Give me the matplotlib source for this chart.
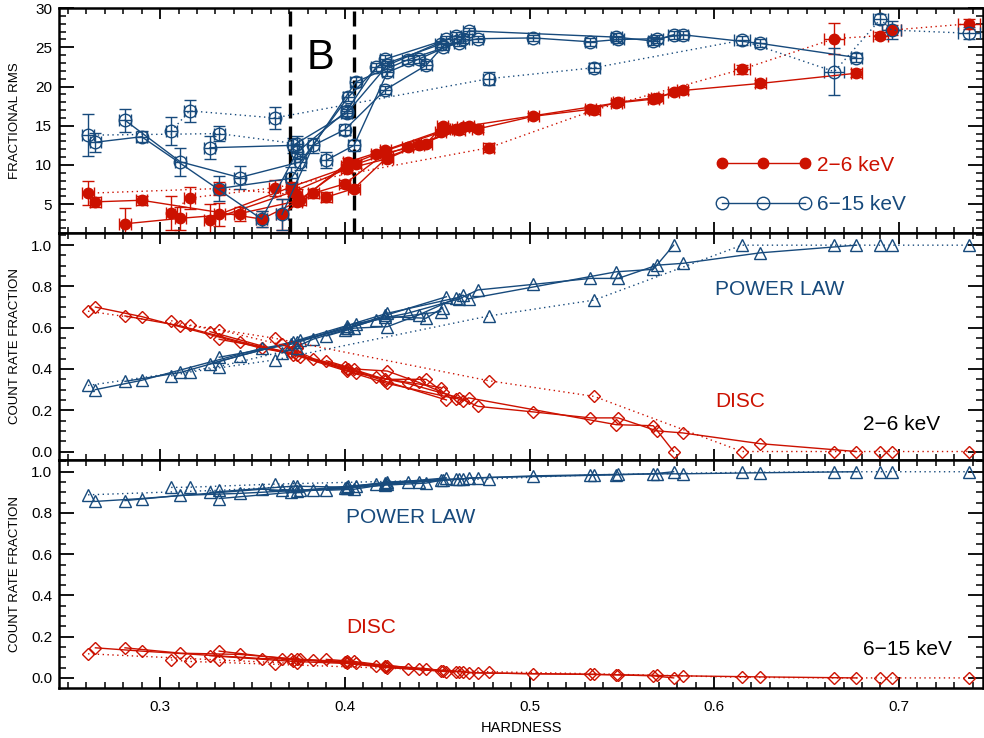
import numpy as np
import matplotlib.pyplot as plt
from matplotlib.lines import Line2D
from matplotlib.ticker import MultipleLocator

plt.rcParams['font.family'] = ['Liberation Sans', 'DejaVu Sans']

# ------------------------------------------------------------------------------
# data: one inner list per track (6 solid tracks, then 2 dotted ones)
hardness = [
    [0.265, 0.290, 0.355, 0.374, 0.401, 0.417, 0.452],
    [0.281, 0.311, 0.343, 0.376, 0.402, 0.422, 0.455],
    [0.327, 0.372, 0.401, 0.423, 0.460],
    [0.332, 0.371, 0.406, 0.434, 0.462, 0.472, 0.502, 0.533, 0.548, 0.569, 0.583, 0.625, 0.677],
    [0.366, 0.383, 0.400, 0.422, 0.444, 0.453],
    [0.390, 0.405, 0.423, 0.440, 0.464, 0.467, 0.547, 0.567, 0.578],
    [0.261, 0.332, 0.374],
    [0.306, 0.316, 0.362, 0.478, 0.535, 0.615, 0.665, 0.690, 0.696, 0.738],
]
hardness_err = [
    [0.003] * 7,
    [0.003] * 7,
    [0.003] * 5,
    [0.003] * 13,
    [0.003] * 6,
    [0.003] * 9,
    [0.003] * 3,
    [0.003, 0.003, 0.003, 0.003, 0.003, 0.0045, 0.0055, 0.004, 0.005, 0.006],
]
rms_soft = [
    [5.3, 5.5, 3.1, 5.3, 9.9, 11.4, 14.2],
    [2.5, 3.2, 3.8, 5.5, 10.4, 11.9, 14.6],
    [3.0, 6.6, 9.5, 10.8, 14.6],
    [3.7, 7.2, 10.1, 12.3, 14.4, 14.6, 16.2, 17.1, 18.0, 18.6, 19.5, 20.4, 21.7],
    [3.7, 6.4, 7.6, 11.5, 12.7, 15.0],
    [5.9, 7.0, 11.0, 12.5, 14.8, 15.0, 17.9, 18.4, 19.3],
    [6.4, 7.0, 6.2],
    [3.9, 5.8, 7.1, 12.2, 17.0, 22.2, 26.1, 26.5, 27.2, 28.0],
]
rms_soft_err = [
    [0.6, 0.6, 1.0, 0.5, 0.5, 0.4, 0.4],
    [2.0, 1.5, 0.9, 0.6, 0.5, 0.4, 0.4],
    [2.0, 0.6, 0.5, 0.4, 0.4],
    [1.5, 0.6, 0.5, 0.4, 0.4, 0.4, 0.4, 0.4, 0.4, 0.4, 0.4, 0.4, 0.5],
    [2.0, 0.6, 0.5, 0.4, 0.4, 0.4],
    [0.6, 0.5, 0.4, 0.4, 0.4, 0.4, 0.4, 0.4, 0.4],
    [1.5, 0.8, 0.8],
    [2.2, 1.4, 1.0, 0.6, 0.5, 0.6, 2.0, 0.5, 0.6, 0.6],
]
rms_hard = [
    [12.9, 13.6, 3.1, 11.6, 16.9, 22.5, 25.4],
    [15.7, 10.4, 8.4, 10.4, 18.7, 23.5, 26.0],
    [12.2, 12.5, 16.6, 22.7, 26.5],
    [7.0, 8.3, 20.6, 23.4, 25.6, 26.1, 26.2, 25.7, 26.0, 26.1, 26.6, 25.5, 23.7],
    [3.7, 12.5, 14.5, 19.6, 22.7, 25.1],
    [10.6, 12.5, 21.8, 23.5, 26.0, 27.1, 26.3, 25.8, 26.6],
    [13.8, 14.0, 12.7],
    [14.3, 16.9, 16.0, 21.0, 22.4, 25.9, 21.9, 28.6, 27.2, 26.8],
]
rms_hard_err = [
    [1.2, 0.7, 1.0, 0.8, 0.6, 0.5, 0.4],
    [1.5, 1.8, 1.5, 1.0, 0.6, 0.5, 0.4],
    [1.5, 1.0, 0.6, 0.5, 0.4],
    [1.6, 1.5, 0.6, 0.5, 0.4, 0.4, 0.4, 0.5, 0.5, 0.5, 0.5, 0.5, 0.6],
    [2.0, 1.0, 0.7, 0.5, 0.5, 0.4],
    [1.0, 0.7, 0.5, 0.5, 0.4, 0.4, 0.5, 0.5, 0.5],
    [2.7, 1.0, 1.0],
    [1.8, 1.4, 1.4, 0.8, 0.6, 0.6, 3.0, 0.6, 1.2, 0.8],
]
pl_soft = [
    [0.30, 0.345, 0.50, 0.53, 0.598, 0.638, 0.678],
    [0.34, 0.383, 0.464, 0.54, 0.60, 0.66, 0.75],
    [0.425, 0.533, 0.61, 0.67, 0.744],
    [0.457, 0.52, 0.62, 0.67, 0.74, 0.783, 0.81, 0.839, 0.839, 0.903, 0.912, 0.963, 1.0],
    [0.477, 0.545, 0.59, 0.654, 0.646, 0.696],
    [0.56, 0.598, 0.605, 0.662, 0.758, 0.74, 0.871, 0.883, 1.0],
    [0.32, 0.412, 0.50],
    [0.367, 0.385, 0.444, 0.657, 0.734, 1.0, 1.0, 1.0, 1.0, 1.0],
]
disc_soft = [
    [0.70, 0.654, 0.50, 0.47, 0.40, 0.36, 0.31],
    [0.657, 0.609, 0.533, 0.46, 0.40, 0.34, 0.25],
    [0.581, 0.47, 0.39, 0.33, 0.256],
    [0.544, 0.48, 0.38, 0.33, 0.26, 0.219, 0.192, 0.163, 0.163, 0.10, 0.09, 0.038, 0.0],
    [0.52, 0.45, 0.41, 0.35, 0.35, 0.29],
    [0.44, 0.40, 0.39, 0.335, 0.245, 0.26, 0.13, 0.125, 0.0],
    [0.68, 0.589, 0.50],
    [0.634, 0.613, 0.549, 0.343, 0.267, 0.0, 0.0, 0.0, 0.0, 0.0],
]
pl_hard = [
    [0.856, 0.87, 0.915, 0.905, 0.92, 0.94, 0.96],
    [0.86, 0.885, 0.895, 0.91, 0.93, 0.945, 0.97],
    [0.90, 0.93, 0.925, 0.95, 0.965],
    [0.87, 0.90, 0.93, 0.95, 0.965, 0.97, 0.98, 0.985, 0.987, 0.99, 0.99, 0.995, 1.0],
    [0.913, 0.91, 0.92, 0.935, 0.945, 0.96],
    [0.91, 0.915, 0.94, 0.95, 0.965, 0.97, 0.985, 0.99, 1.0],
    [0.888, 0.91, 0.93],
    [0.924, 0.925, 0.94, 0.965, 0.985, 0.997, 1.0, 1.0, 1.0, 1.0],
]
disc_hard = [
    [0.146, 0.13, 0.094, 0.09, 0.08, 0.06, 0.035],
    [0.146, 0.12, 0.114, 0.09, 0.075, 0.055, 0.03],
    [0.108, 0.08, 0.07, 0.05, 0.03],
    [0.13, 0.09, 0.07, 0.045, 0.03, 0.025, 0.02, 0.018, 0.015, 0.012, 0.01, 0.005, 0.0],
    [0.09, 0.085, 0.075, 0.06, 0.045, 0.035],
    [0.09, 0.08, 0.06, 0.045, 0.03, 0.025, 0.015, 0.01, 0.0],
    [0.117, 0.087, 0.07],
    [0.087, 0.08, 0.066, 0.03, 0.02, 0.003, 0.0, 0.0, 0.0, 0.0],
]
track_dotted = [False, False, False, False, False, False, True, True]

# hardness range of state B
b_edges = [0.3704, 0.4052]

RED = '#cc1100'
BLUE = '#174a7c'
DOT = (0, (1, 2.5))

# ------------------------------------------------------------------------------
fig = plt.figure(figsize=(9.84, 7.38), dpi=100)
ax1 = fig.add_axes([0.060, 0.684, 0.939, 0.305])
ax2 = fig.add_axes([0.060, 0.377, 0.939, 0.307], sharex=ax1)
ax3 = fig.add_axes([0.060, 0.068, 0.939, 0.309], sharex=ax1)

# top panel: fractional rms
for i in range(len(hardness)):
    ls = DOT if track_dotted[i] else '-'
    ax1.errorbar(hardness[i], rms_soft[i], yerr=rms_soft_err[i], xerr=hardness_err[i],
                 color=RED, linestyle=ls, lw=1, marker='o', ms=7.5, mfc=RED, mec=RED,
                 capsize=4, elinewidth=1, capthick=1)
for i in range(len(hardness)):
    ls = DOT if track_dotted[i] else '-'
    ax1.errorbar(hardness[i], rms_hard[i], yerr=rms_hard_err[i], xerr=hardness_err[i],
                 color=BLUE, linestyle=ls, lw=1, marker='o', ms=9, mfc='none', mec=BLUE,
                 mew=1, capsize=4, elinewidth=1, capthick=1)

for xb in b_edges:
    ax1.axvline(xb, color='black', lw=2.4, linestyle=(0, (4.5, 2.4)))
ax1.text(0.3866, 23.7, 'B', fontsize=30, ha='center', va='center', fontweight='light')

handles = [Line2D([], [], color=RED, marker='o', ms=7.5, lw=1),
           Line2D([], [], color=BLUE, marker='o', ms=9, mfc='none', lw=1)]
ax1.legend(handles, ['2\u22126 keV', '6\u221215 keV'], numpoints=3, handlelength=4.6,
           loc='lower left', bbox_to_anchor=(0.69, 0.0), frameon=False, fontsize=15,
           labelcolor=[RED, BLUE], handletextpad=0.3, labelspacing=1.0)

# middle and bottom panels: count rate fractions
for ax, pl, disc in [(ax2, pl_soft, disc_soft), (ax3, pl_hard, disc_hard)]:
    for i in range(len(hardness)):
        ls = DOT if track_dotted[i] else '-'
        ax.plot(hardness[i], disc[i], color=RED, linestyle=ls, lw=1, marker='D', ms=6,
                mfc='none', mec=RED, mew=1)
        ax.plot(hardness[i], pl[i], color=BLUE, linestyle=ls, lw=1, marker='^', ms=9,
                mfc='none', mec=BLUE, mew=1)

ax2.text(0.6005, 0.783, 'POWER LAW', color=BLUE, fontsize=15, va='center')
ax2.text(0.6005, 0.242, 'DISC', color=RED, fontsize=15, va='center')
ax2.text(0.6806, 0.13, '2\u22126 keV', color='black', fontsize=15, va='center')
ax3.text(0.4007, 0.78, 'POWER LAW', color=BLUE, fontsize=15, va='center')
ax3.text(0.4007, 0.243, 'DISC', color=RED, fontsize=15, va='center')
ax3.text(0.6806, 0.136, '6\u221215 keV', color='black', fontsize=15, va='center')

# axes styling
ax1.set_xlim(0.2453, 0.7455)
ax1.set_ylim(1.3, 30)
ax2.set_ylim(-0.04, 1.058)
ax3.set_ylim(-0.048, 1.058)

ax1.yaxis.set_major_locator(MultipleLocator(5))
ax1.yaxis.set_minor_locator(MultipleLocator(1))
for ax in (ax2, ax3):
    ax.yaxis.set_major_locator(MultipleLocator(0.2))
    ax.yaxis.set_minor_locator(MultipleLocator(0.05))

for ax in (ax1, ax2, ax3):
    ax.xaxis.set_major_locator(MultipleLocator(0.1))
    ax.xaxis.set_minor_locator(MultipleLocator(0.01))
    ax.tick_params(which='both', direction='in', top=True, right=True, labelsize=11)
    ax.tick_params(axis='x', which='major', length=8, width=1.3, pad=9)
    ax.tick_params(axis='x', which='minor', length=4, width=1.1)
    ax.tick_params(axis='y', which='major', length=11, width=1.3, pad=5)
    ax.tick_params(axis='y', which='minor', length=5, width=1.1)
    for sp in ax.spines.values():
        sp.set_linewidth(1.8)

ax1.tick_params(labelbottom=False)
ax2.tick_params(labelbottom=False)

ax1.set_ylabel('FRACTIONAL RMS', fontsize=9.5)
ax2.set_ylabel('COUNT RATE FRACTION', fontsize=9.5)
ax3.set_ylabel('COUNT RATE FRACTION', fontsize=9.5)
for ax in (ax1, ax2, ax3):
    ax.yaxis.set_label_coords(-0.041, 0.5)
ax3.set_xlabel('HARDNESS', fontsize=10.5)
ax3.xaxis.set_label_coords(0.5, -0.145)

plt.savefig('out.png', dpi=100)
